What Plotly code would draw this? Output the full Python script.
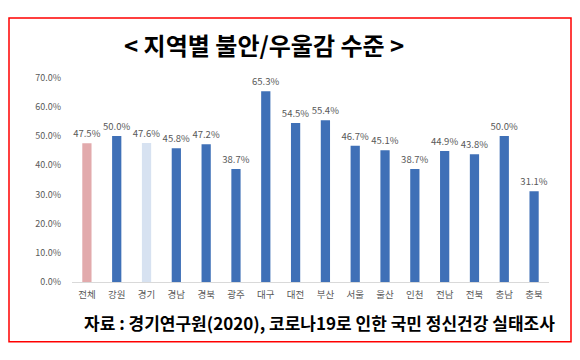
import plotly.graph_objects as go

categories = ["전체", "강원", "경기", "경남", "경북", "광주", "대구", "대전", "부산",
              "서울", "울산", "인천", "전남", "전북", "충남", "충북"]
values = [47.5, 50.0, 47.6, 45.8, 47.2, 38.7, 65.3, 54.5, 55.4, 46.7, 45.1, 38.7,
          44.9, 43.8, 50.0, 31.1]
tick_vals = [0, 10, 20, 30, 40, 50, 60, 70]
tick_text = ["0.0%", "10.0%", "20.0%", "30.0%", "40.0%", "50.0%", "60.0%", "70.0%"]
title_text = "< 지역별 불안/우울감 수준 >"
source_text = "자료 : 경기연구원(2020), 코로나19로 인한 국민 정신건강 실태조사"

W, H = 580, 360
OFF = 8  # page body margin offset
FONT = "Noto Sans CJK KR"
BLUE = "#3F70B7"
colors = [BLUE] * len(categories)
colors[0] = "#E2AAAC"
colors[2] = "#D7E2F1"


def px_x(p):
    return (p - OFF) / W


def px_y(p):
    return (H - (p - OFF)) / H


fig = go.Figure(go.Bar(
    x=categories, y=values,
    marker=dict(color=colors, line=dict(width=0)),
    text=[f"{v:.1f}%" for v in values],
    textposition="outside",
    constraintext="none",
    textfont=dict(family=FONT, size=9.5, color="#595959"),
    cliponaxis=False,
))

fig.update_layout(
    width=W, height=H,
    margin=dict(l=0, r=0, t=0, b=0),
    paper_bgcolor="white", plot_bgcolor="white",
    showlegend=False,
    bargap=0.69,
    font=dict(family=FONT),
    xaxis=dict(domain=[px_x(72), px_x(549)], showline=True, linecolor="#D9D9D9",
               linewidth=1, ticks="", ticklabelstandoff=4,
               tickfont=dict(family=FONT, size=9.5, color="#595959"),
               showgrid=False, fixedrange=True),
    yaxis=dict(domain=[px_y(285), px_y(73)], range=[0, 70],
               tickvals=tick_vals, ticktext=tick_text, showgrid=False,
               zeroline=False, showline=False, ticklabelstandoff=10,
               tickfont=dict(family=FONT, size=9, color="#595959"), ticklen=0,
               ticks="", fixedrange=True),
)

fig.add_shape(type="rect", xref="paper", yref="paper",
              x0=px_x(9), x1=px_x(571), y0=px_y(347), y1=px_y(11),
              line=dict(color="#FF0000", width=1.5))

fig.add_annotation(text=f"<b>{title_text}</b>", xref="paper", yref="paper",
                   x=px_x(264), y=px_y(39), xanchor="center", yanchor="middle",
                   showarrow=False,
                   font=dict(family=FONT, size=24, color="black"))
fig.add_annotation(text=f"<b>{source_text}</b>", xref="paper", yref="paper",
                   x=px_x(557), y=px_y(327), xanchor="right", yanchor="middle",
                   showarrow=False,
                   font=dict(family=FONT, size=17, color="black"))

fig.write_html("out.html")
